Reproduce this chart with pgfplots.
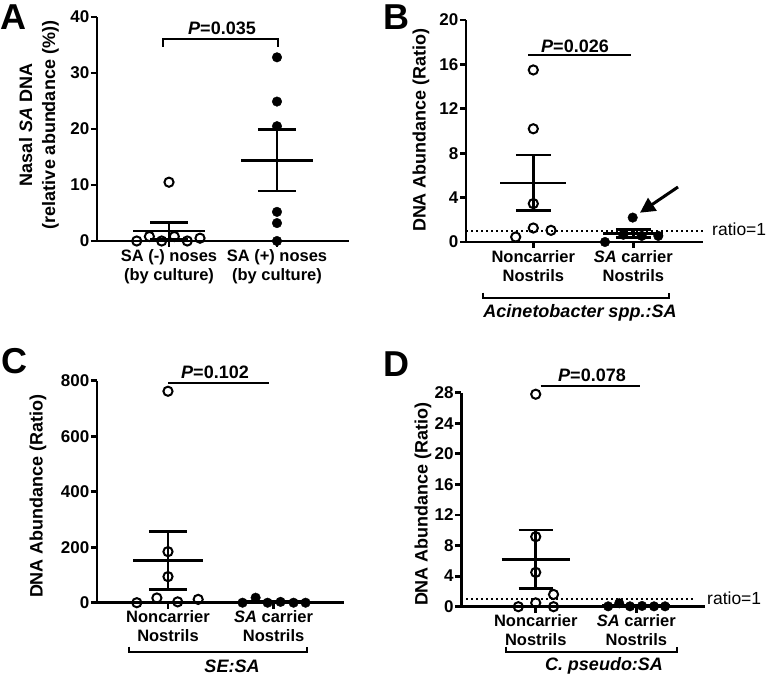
\documentclass[border=0pt]{standalone}
\usepackage{pgfplots}
\pgfplotsset{compat=1.18}
\usepackage{fontspec}
\setmainfont{Liberation Sans}
\usetikzlibrary{arrows.meta}

\pgfplotsset{
  panel/.style={
    scale only axis,
    anchor=south west,
    axis x line=bottom, axis y line=left,
    axis line style={line width=2.8pt, -},
    tick style={line width=2.8pt, black},
    major tick length=6pt,
    tick align=outside,
    clip=false,
    xtick={1,2},
    ymin=0,
    scaled y ticks=false,
    /pgf/number format/assume math mode=true,
    yticklabel style={font=\fontsize{17}{17}\selectfont\bfseries, inner sep=1.5pt},
    xticklabel style={font=\fontsize{16.5}{19}\selectfont\bfseries, align=center, inner sep=2pt},
  },
  open/.style={only marks, mark=o, mark size=4.6pt, mark options={line width=2pt, black}},
  filled/.style={only marks, mark=*, mark size=4.8pt, black, mark options={black}},
  sem/.style={line width=2.8pt, black, mark=none},
  ratioline/.style={line width=2pt, black, dash pattern=on 2pt off 3pt, mark=none},
}
\newcommand{\bigfont}{\fontsize{18}{23}\selectfont\bfseries}

\begin{document}
\begin{tikzpicture}[x=1pt,y=1pt]
\useasboundingbox (0,0) rectangle (766,675);

% ---------------- Panel A ----------------
\begin{axis}[panel, at={(97pt,434pt)}, width=252pt, height=224pt,
  xmin=0.333, xmax=2.667, ymax=40, ytick={0,10,20,30,40},
  xticklabels={SA (-) noses\\(by culture), SA (+) noses\\(by culture)}]
\addplot[sem] coordinates {(0.667,1.8) (1.333,1.8)};
\addplot[sem] coordinates {(0.824,3.26) (1.176,3.26)};
\addplot[sem] coordinates {(0.824,0.34) (1.176,0.34)};
\addplot[sem] coordinates {(1,0.34) (1,3.26)};
\addplot[sem] coordinates {(1.667,14.43) (2.333,14.43)};
\addplot[sem] coordinates {(1.824,19.92) (2.176,19.92)};
\addplot[sem] coordinates {(1.824,8.94) (2.176,8.94)};
\addplot[sem] coordinates {(2,8.94) (2,19.92)};
\addplot[open] coordinates {(0.701,0) (0.818,0.8) (0.932,0) (1,10.5) (1.049,0.8) (1.169,0) (1.287,0.5)};
\addplot[filled] coordinates {(2,32.8) (2,24.9) (2,20.5) (2,5.2) (2,3.2) (2,0)};
\end{axis}

% ---------------- Panel B ----------------
\begin{axis}[panel, at={(466pt,433pt)}, width=237pt, height=222pt,
  xmin=0.327, xmax=2.697, ymax=20, ytick={0,4,...,20},
  xticklabels={Noncarrier\\Nostrils, \textit{SA} carrier\\Nostrils}]
\addplot[ratioline] coordinates {(0.327,1) (2.70,1)};
\addplot[sem] coordinates {(0.67,5.32) (1.33,5.32)};
\addplot[sem] coordinates {(0.825,7.83) (1.175,7.83)};
\addplot[sem] coordinates {(0.825,2.81) (1.175,2.81)};
\addplot[sem] coordinates {(1,2.81) (1,7.83)};
\addplot[sem] coordinates {(1.7,0.79) (2.3,0.79)};
\addplot[sem] coordinates {(1.825,1.16) (2.175,1.16)};
\addplot[sem] coordinates {(1.825,0.42) (2.175,0.42)};
\addplot[sem] coordinates {(2,0.42) (2,1.16)};
\addplot[open] coordinates {(0.824,0.45) (1,1.26) (1.177,1.05) (1,3.46) (1,10.2) (1,15.5)};
\addplot[filled] coordinates {(1.717,0) (1.9,0.65) (1.994,2.2) (2.084,0.55) (2.25,0.55)};
\end{axis}

% ---------------- Panel C ----------------
\begin{axis}[panel, at={(97pt,72.3pt)}, width=246.6pt, height=222pt,
  xmin=0.328, xmax=2.663, ymax=800, ytick={0,200,...,800},
  xticklabels={Noncarrier\\Nostrils, \textit{SA} carrier\\Nostrils}]
\addplot[sem] coordinates {(0.673,153.1) (1.327,153.1)};
\addplot[sem] coordinates {(0.82,257.7) (1.18,257.7)};
\addplot[sem] coordinates {(0.82,48.5) (1.18,48.5)};
\addplot[sem] coordinates {(1,48.5) (1,257.7)};
\addplot[sem] coordinates {(1.673,3.5) (2.327,3.5)};
\addplot[open] coordinates {(0.705,0) (0.895,17) (1,762) (1,184) (1,94) (1.092,3) (1.286,12)};
\addplot[filled] coordinates {(1.706,0) (1.83,18) (1.943,0) (2.066,3) (2.189,0) (2.303,0)};
\end{axis}

% ---------------- Panel D ----------------
\begin{axis}[panel, at={(461.3pt,68.3pt)}, width=243.4pt, height=214pt,
  xmin=0.26, xmax=2.68, ymax=28, ytick={0,4,...,28},
  xticklabels={Noncarrier\\Nostrils, \textit{SA} carrier\\Nostrils}]
\addplot[ratioline] coordinates {(0.26,1) (2.564,1)};
\addplot[sem] coordinates {(0.662,6.22) (1.338,6.22)};
\addplot[sem] coordinates {(0.83,10.03) (1.17,10.03)};
\addplot[sem] coordinates {(0.83,2.41) (1.17,2.41)};
\addplot[sem] coordinates {(1,2.41) (1,10.03)};
\addplot[sem] coordinates {(1.662,0.125) (2.338,0.125)};
\addplot[open] coordinates {(0.827,0) (1,27.8) (1,9.16) (1,4.49) (1,0.5) (1.177,1.6) (1.177,0)};
\addplot[filled] coordinates {(1.72,0.05) (1.83,0.45) (1.937,0.05) (2.057,0.1) (2.176,0.05) (2.286,0.05)};
\end{axis}

% ---------------- Annotations ----------------
% panel letters
\tikzset{letter/.style={font=\fontsize{36}{36}\selectfont\bfseries, anchor=north west, inner sep=0pt, text height=26pt, text depth=0pt}}
\node[letter] at (0,672) {A};
\node[letter] at (383,672) {B};
\node[letter] at (1,328) {C};
\node[letter] at (383,325) {D};

% y labels
\node[rotate=90, align=center, font=\bigfont] at (39,550) {Nasal \textit{SA} DNA\\(relative abundance (\%))};
\node[rotate=90, font=\bigfont] at (421,545) {DNA Abundance (Ratio)};
\node[rotate=90, font=\bigfont] at (38,179) {DNA Abundance (Ratio)};
\node[rotate=90, font=\bigfont] at (423,171) {DNA Abundance (Ratio)};

% p-values
\draw[line width=2.2pt] (163,628) -- (163,636) -- (277.7,636) -- (277.7,628);
\node[font=\bigfont] at (222,647) {\textit{P}=0.035};
\draw[line width=2pt] (528,620) -- (631,620);
\node[font=\bigfont] at (575,629) {\textit{P}=0.026};
\draw[line width=2pt] (168,292.3) -- (269,292.3);
\node[font=\bigfont] at (215,303) {\textit{P}=0.102};
\draw[line width=2pt] (540.7,289) -- (639.7,289);
\node[font=\bigfont] at (592,300) {\textit{P}=0.078};

% ratio=1
\node[anchor=west, font=\fontsize{17.5}{17.5}\selectfont, inner sep=0pt] at (712,446) {ratio=1};
\node[anchor=west, font=\fontsize{17.5}{17.5}\selectfont, inner sep=0pt] at (707,77) {ratio=1};

% arrow in B
\draw[line width=3pt, -{Triangle[length=15pt,width=15pt]}] (678,488) -- (640,462.3);

% group brackets
\draw[line width=2.2pt] (483,382.3) -- (483,376.7) -- (669,376.7) -- (669,382.3);
\node[font=\bigfont\itshape] at (580,362) {Acinetobacter spp.:SA};
\draw[line width=2.2pt] (129,28.3) -- (129,23.3) -- (306.7,23.3) -- (306.7,28.3);
\node[font=\bigfont\itshape] at (232,9) {SE:SA};
\draw[line width=2.2pt] (505.7,28.3) -- (505.7,23.3) -- (677,23.3) -- (677,28.3);
\node[font=\bigfont\itshape] at (604,9) {C. pseudo:SA};
\end{tikzpicture}
\end{document}
